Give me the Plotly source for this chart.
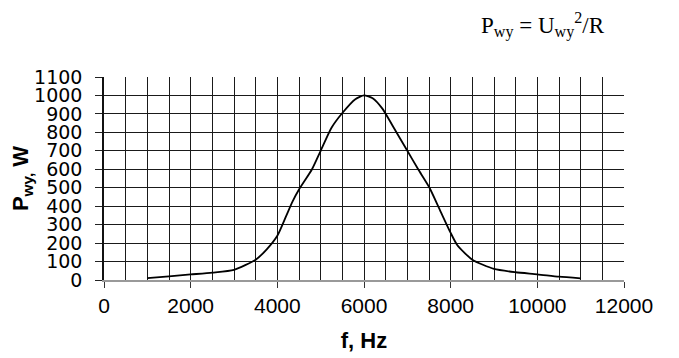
import numpy as np
import plotly.graph_objects as go

# data
freq_hz = [1000, 1500, 2000, 2500, 3000, 3500, 3750, 4000, 4200, 4350, 4500, 4800,
           5000, 5250, 5500, 5800, 6000, 6200, 6420, 6650, 7000, 7250, 7500, 7750,
           8000, 8150, 8500, 9000, 9500, 10000, 10500, 11000]
power_w = [10, 20, 30, 40, 55, 110, 165, 240, 345, 425, 490, 600,
           700, 825, 905, 980, 1000, 985, 930, 840, 700, 600, 505, 380,
           255, 190, 110, 60, 42, 31, 18, 9]

x_ticks = [0, 2000, 4000, 6000, 8000, 10000, 12000]
y_ticks = list(range(0, 1101, 100))
x_grid = list(range(500, 12000, 500))
y_grid = list(range(100, 1001, 100))

fig = go.Figure()
fig.add_trace(go.Scatter(x=freq_hz, y=power_w, mode="lines",
                         line=dict(color="black", width=1.8, shape="spline", smoothing=0.6),
                         showlegend=False, hoverinfo="skip"))
fig.add_trace(go.Scatter(x=[None], y=[None], xaxis="x2", yaxis="y2",
                         showlegend=False, hoverinfo="skip"))

grid_col = "#1a1a1a"
fig.update_layout(
    width=671, height=350,
    margin=dict(l=96, r=55, t=69, b=78),
    paper_bgcolor="white", plot_bgcolor="white",
    font=dict(family="Liberation Sans, Arial, sans-serif", color="black"),
    xaxis=dict(range=[0, 12000], tickvals=x_ticks, ticktext=[str(v) for v in x_ticks],
               ticks="outside", ticklen=6, tickwidth=1.3, tickcolor="#333",
               showline=True, linecolor="#999", linewidth=2,
               showgrid=False, zeroline=False, automargin=False,
               tickfont=dict(size=21),
               title=dict(text="<b>f, Hz</b>", font=dict(size=22), standoff=16)),
    yaxis=dict(range=[0, 1100], tickvals=y_ticks,
               ticks="outside", ticklen=7, tickwidth=1.3, tickcolor="#222",
               showline=True, linecolor="#111", linewidth=1.5,
               showgrid=False, zeroline=False, automargin=False,
               tickfont=dict(size=19, family="DejaVu Sans, Verdana, sans-serif"),
               ticklabelstandoff=9,
               title=dict(text="<b>P<sub>wy,</sub> W</b>", font=dict(size=22), standoff=7)),
    xaxis2=dict(overlaying="x", range=[0, 12000], tickvals=x_grid, showgrid=True,
                gridcolor=grid_col, gridwidth=1.3, showticklabels=False, ticks="",
                zeroline=False, showline=False),
    yaxis2=dict(overlaying="y", range=[0, 1100], tickvals=y_grid, showgrid=True,
                gridcolor=grid_col, gridwidth=1.3, showticklabels=False, ticks="",
                zeroline=False, showline=False),
    annotations=[dict(text="P<sub>wy</sub> = U<sub>wy</sub><sup>2</sup>/R",
                      xref="paper", yref="paper", x=0.845, y=1.255,
                      xanchor="center", yanchor="middle", showarrow=False,
                      font=dict(family="Liberation Serif, Times New Roman, serif", size=23))],
)

fig.write_html("out.html")
